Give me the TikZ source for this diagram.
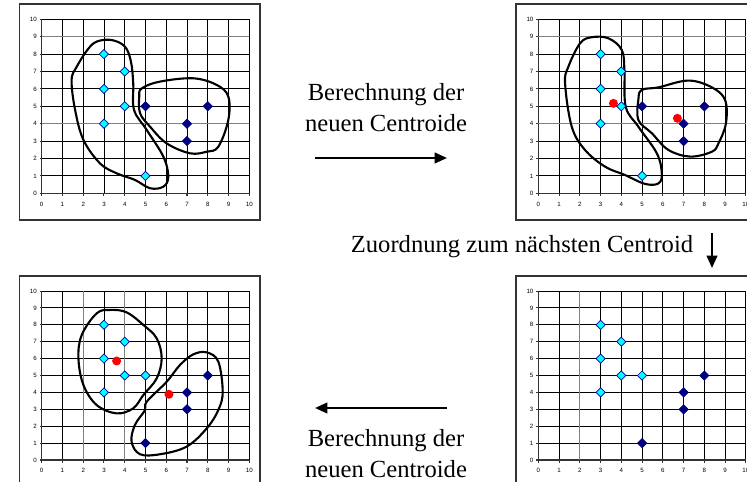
\documentclass[tikz,border=0pt]{standalone}
\usepackage{fontspec}
\setmainfont{Liberation Serif}
\newfontfamily\axisfont{Liberation Sans}
\usetikzlibrary{shapes.geometric, arrows.meta}
\definecolor{ptcyan}{RGB}{0,255,255}
\definecolor{ptnavy}{RGB}{0,0,128}
\definecolor{ptred}{RGB}{255,0,0}
\definecolor{gridgray}{RGB}{128,128,128}

% frame, grid and axes of one small chart (data units)
\newcommand{\kmchart}{%
  \draw[chartframe] (-1.08,-1.53) rectangle (10.52,10.88);
  \foreach \k in {1,...,10} {
    \draw[gridline] (\k,0) -- (\k,10);
    \draw[gridline] (0,\k) -- (10,\k);
  }
  \draw[axisline] (0,10) -- (0,0) -- (10,0);
  \foreach \k in {0,...,10} {
    \draw[axisline] (\k,0) -- (\k,-0.15);
    \draw[axisline] (0,\k) -- (-0.1,\k);
    \node[ticklabel] at (\k,-0.62) {\k};
    \node[ticklabel, anchor=east] at (-0.22,\k) {\k};
  }
}

\begin{document}
\begin{tikzpicture}[
    x=0.02cm, y=-0.02cm,
    chartframe/.style={draw=black!80, line width=0.8pt},
    gridline/.style={draw=black, line width=0.5pt},
    axisline/.style={draw=black!80, line width=0.6pt},
    ticklabel/.style={font=\axisfont\fontsize{3.5}{4}\selectfont, inner sep=0pt},
    cyanpt/.style={
        diamond, 
        fill=ptcyan, 
        draw=ptnavy!70!blue, 
        line width=0.4pt, 
        inner sep=0pt, 
        minimum width=0.19cm, 
        minimum height=0.19cm
    },
    navypt/.style={
        diamond, 
        fill=ptnavy, 
        draw=ptnavy, 
        line width=0.4pt, 
        inner sep=0pt, 
        minimum width=0.19cm, 
        minimum height=0.19cm
    },
    centroid/.style={circle, fill=ptred, inner sep=0pt, minimum size=0.18cm},
    blob/.style={draw=black, line width=1.2pt},
    caption/.style={align=center, font=\fontsize{14}{17.6}\selectfont},
    flow/.style={-{Triangle[length=7pt, width=6pt]}, line width=1.3pt, draw=black}
]
    \useasboundingbox (0,0) rectangle (747,482);
    \clip (0,0) rectangle (747,482);

    % top left: initial clusters
    \begin{scope}[shift={(41.7,193.3)}, x=0.4152cm, y=0.348cm]
        \kmchart
        \draw[gridline, gridgray] (0,4) -- (10,4) (0,9) -- (10,9);
        \draw[blob] plot[smooth cycle, tension=0.6] coordinates {
            (2.2,8.24) (2.65,8.72) (3.37,8.81) (4.01,8.43) (4.30,7.57) (4.41,6.32)
            (4.45,4.79) (5.06,3.64) (5.86,2.11) (6.10,0.96) (5.86,0.38) (5.22,0.29)
            (4.49,0.77) (3.61,1.15) (2.81,1.72) (2.01,3.07) (1.61,4.79) (1.44,6.51) (1.69,7.28)};
        \draw[blob] plot[smooth cycle, tension=0.6] coordinates {
            (4.82,6.03) (5.70,6.42) (7.30,6.61) (8.43,6.23) (8.99,5.56) (8.99,4.21)
            (8.51,2.68) (7.95,2.39) (7.14,2.30) (6.02,2.87) (5.22,3.83) (4.74,4.60) (4.70,5.56)};
        \foreach \px/\py [count=\i] in {3/8, 4/7, 3/6, 4/5, 3/4, 5/1}
            \node[cyanpt] (tl-c\i) at (\px,\py) {};
        \foreach \px/\py [count=\i] in {5/5, 8/5, 7/4, 7/3}
            \node[navypt] (tl-n\i) at (\px,\py) {};
    \end{scope}

    % top right: new centroids
    \begin{scope}[shift={(538.3,193.3)}, x=0.4152cm, y=0.348cm]
        \kmchart
        \draw[gridline, gridgray] (0,4) -- (10,4) (0,9) -- (10,9);
        \draw[blob] plot[smooth cycle, tension=0.6] coordinates {
            (2.01,8.62) (2.57,8.97) (3.38,8.91) (4.02,8.24) (4.15,7.09) (4.21,4.98)
            (4.82,3.83) (5.71,2.30) (5.95,1.15) (5.79,0.57) (5.14,0.54) (4.18,1.05)
            (3.22,1.53) (2.25,2.49) (1.61,3.83) (1.29,6.32) (1.45,7.28)};
        \draw[blob] plot[smooth cycle, tension=0.6] coordinates {
            (4.98,5.94) (5.79,6.09) (7.23,6.48) (8.36,6.09) (9.00,5.36) (9.04,4.02)
            (8.68,2.87) (8.36,2.39) (7.32,2.11) (6.27,2.49) (5.47,3.45) (4.82,4.21) (4.82,5.36)};
        \foreach \px/\py [count=\i] in {3/8, 4/7, 3/6, 4/5, 3/4, 5/1}
            \node[cyanpt] (tr-c\i) at (\px,\py) {};
        \foreach \px/\py [count=\i] in {5/5, 8/5, 7/4, 7/3}
            \node[navypt] (tr-n\i) at (\px,\py) {};
        \node[centroid] (tr-m1) at (3.62,5.17) {};
        \node[centroid] (tr-m2) at (6.70,4.31) {};
    \end{scope}

    % bottom right: reassigned points
    \begin{scope}[shift={(538.3,460)}, x=0.4152cm, y=0.338cm]
        \kmchart
        \draw[gridline, gridgray] (2,0) -- (2,10);
        \foreach \px/\py [count=\i] in {3/8, 4/7, 3/6, 4/5, 5/5, 3/4}
            \node[cyanpt] (br-c\i) at (\px,\py) {};
        \foreach \px/\py [count=\i] in {8/5, 7/4, 7/3, 5/1}
            \node[navypt] (br-n\i) at (\px,\py) {};
    \end{scope}

    % bottom left: new clusters with centroids
    \begin{scope}[shift={(41.7,460)}, x=0.4152cm, y=0.338cm]
        \kmchart
        \draw[gridline, gridgray] (2,0) -- (2,10) (4,0) -- (4,10);
        \draw[blob] plot[smooth cycle, tension=0.6] coordinates {
            (2.65,8.68) (3.29,8.88) (4.09,8.74) (4.90,7.99) (5.54,7.20) (5.78,6.02)
            (5.54,4.83) (4.90,3.85) (4.41,3.06) (3.61,2.76) (2.65,3.25) (2.01,4.44)
            (1.77,6.02) (1.93,7.40)};
        \draw[blob] plot[smooth cycle, tension=0.6] coordinates {
            (5.06,3.45) (6.02,4.63) (6.66,5.62) (7.30,6.25) (7.95,6.37) (8.51,5.82)
            (8.72,4.04) (8.51,2.96) (7.95,1.87) (6.98,0.79) (5.70,0.34) (4.74,0.34)
            (4.33,1.08) (4.49,2.07) (4.98,2.96)};
        \foreach \px/\py [count=\i] in {3/8, 4/7, 3/6, 4/5, 5/5, 3/4}
            \node[cyanpt] (bl-c\i) at (\px,\py) {};
        \foreach \px/\py [count=\i] in {8/5, 7/4, 7/3, 5/1}
            \node[navypt] (bl-n\i) at (\px,\py) {};
        \node[centroid] (bl-m1) at (3.61,5.86) {};
        \node[centroid] (bl-m2) at (6.13,3.89) {};
    \end{scope}

    % step labels and arrows
    \node[caption] (calc1) at (386,108) {Berechnung der\\neuen Centroide};
    \node[caption] (assign) at (522,247) {Zuordnung zum nächsten Centroid};
    \node[caption] (calc2) at (386,454) {Berechnung der\\neuen Centroide};

    \coordinate (a1s) at (315,158);
    \coordinate (a1e) at (447,158);
    \coordinate (a2s) at (712,233);
    \coordinate (a2e) at (712,268);
    \coordinate (a3s) at (447,408);
    \coordinate (a3e) at (315,408);

    \draw[flow] (a1s) -- (a1e);
    \draw[flow] (a2s) -- (a2e);
    \draw[flow] (a3s) -- (a3e);
\end{tikzpicture}
\end{document}
